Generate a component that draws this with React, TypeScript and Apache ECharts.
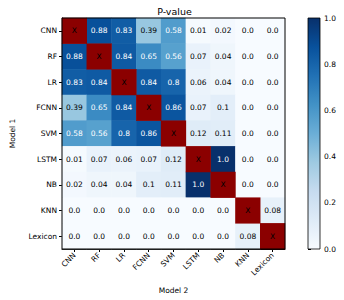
import React, { useEffect, useRef } from "react";
import * as echarts from "echarts";

const models = ["CNN", "RF", "LR", "FCNN", "SVM", "LSTM", "NB", "KNN", "Lexicon"];

// rows = Model 1 (top to bottom), columns = Model 2; null = diagonal
const rowCNN = [null, 0.88, 0.83, 0.39, 0.58, 0.01, 0.02, 0.0, 0.0];
const rowRF = [0.88, null, 0.84, 0.65, 0.56, 0.07, 0.04, 0.0, 0.0];
const rowLR = [0.83, 0.84, null, 0.84, 0.8, 0.06, 0.04, 0.0, 0.0];
const rowFCNN = [0.39, 0.65, 0.84, null, 0.86, 0.07, 0.1, 0.0, 0.0];
const rowSVM = [0.58, 0.56, 0.8, 0.86, null, 0.12, 0.11, 0.0, 0.0];
const rowLSTM = [0.01, 0.07, 0.06, 0.07, 0.12, null, 1.0, 0.0, 0.0];
const rowNB = [0.02, 0.04, 0.04, 0.1, 0.11, 1.0, null, 0.0, 0.0];
const rowKNN = [0.0, 0.0, 0.0, 0.0, 0.0, 0.0, 0.0, null, 0.08];
const rowLexicon = [0.0, 0.0, 0.0, 0.0, 0.0, 0.0, 0.0, 0.08, null];

const rows = [rowCNN, rowRF, rowLR, rowFCNN, rowSVM, rowLSTM, rowNB, rowKNN, rowLexicon];

const blues = [
  "#f7fbff", "#deebf7", "#c6dbef", "#9ecae1", "#6baed6",
  "#4292c6", "#2171b5", "#08519c", "#08306b",
];

const FONT = "DejaVu Sans";

export default function App() {
  const ref = useRef<HTMLDivElement>(null);
  useEffect(() => {
    if (!ref.current) return;
    const chart = echarts.init(ref.current, undefined, { renderer: "svg" });

    const valueData: any[] = [];
    const diagData: any[] = [];
    rows.forEach((row, i) => {
      row.forEach((v, j) => {
        if (v === null) {
          diagData.push([j, i, 1]);
        } else {
          valueData.push({
            value: [j, i, v],
            label: { color: v > 0.5 ? "#ffffff" : "#000000" },
          });
        }
      });
    });

    const gL = 54, gT = 18, gW = 231, gH = 231;
    const cbL = 308, cbW = 12;

    chart.setOption({
      animation: false,
      textStyle: { fontFamily: FONT },
      title: {
        text: "P-value",
        left: gL + gW / 2,
        top: 1,
        textAlign: "center",
        textStyle: { fontSize: 9.5, fontWeight: "normal", color: "#000", fontFamily: FONT },
      },
      grid: [
        { left: gL, top: gT, width: gW, height: gH, show: true, borderColor: "#000", borderWidth: 1, backgroundColor: "transparent", z: 5 },
        { left: cbL, top: gT, width: cbW, height: gH, show: false },
      ],
      xAxis: [
        {
          type: "category",
          data: models,
          gridIndex: 0,
          name: "Model 2",
          nameLocation: "middle",
          nameGap: 37,
          nameTextStyle: { fontSize: 7.5, color: "#000", fontFamily: FONT },
          axisLine: { show: true, lineStyle: { color: "#000", width: 1 } },
          axisTick: { show: true, alignWithLabel: true, length: 3, lineStyle: { color: "#000" } },
          axisLabel: { rotate: 45, fontSize: 7.5, color: "#000", margin: 5, fontFamily: FONT },
          splitLine: { show: false },
          splitArea: { show: false },
        },
        { type: "value", gridIndex: 1, show: false, min: 0, max: 1 },
      ],
      yAxis: [
        {
          type: "category",
          data: models,
          inverse: true,
          gridIndex: 0,
          name: "Model 1",
          nameLocation: "middle",
          nameGap: 46,
          nameRotate: 90,
          nameTextStyle: { fontSize: 7.5, color: "#000", fontFamily: FONT },
          axisLine: { show: true, lineStyle: { color: "#000", width: 1 } },
          axisTick: { show: true, alignWithLabel: true, length: 3, lineStyle: { color: "#000" } },
          axisLabel: { fontSize: 7.5, color: "#000", margin: 5, fontFamily: FONT },
          splitLine: { show: false },
          splitArea: { show: false },
        },
        {
          type: "value",
          gridIndex: 1,
          min: 0,
          max: 1,
          interval: 0.2,
          position: "right",
          axisLine: { show: false },
          axisTick: { show: true, length: 3, lineStyle: { color: "#000" } },
          axisLabel: { fontSize: 7.5, color: "#000", margin: 4, fontFamily: FONT, formatter: (v: number) => v.toFixed(1) },
          splitLine: { show: false },
        },
      ],
      visualMap: [
        {
          show: false,
          type: "continuous",
          min: 0,
          max: 1,
          seriesIndex: 0,
          dimension: 2,
          inRange: { color: blues },
        },
        {
          show: false,
          type: "continuous",
          min: 0,
          max: 1,
          seriesIndex: 1,
          dimension: 2,
          inRange: { color: ["#8b0000", "#8b0000"] },
        },
      ],
      graphic: [
        {
          type: "rect",
          shape: { x: cbL, y: gT, width: cbW, height: gH },
          style: {
            fill: {
              type: "linear",
              x: 0, y: 1, x2: 0, y2: 0,
              colorStops: blues.map((c, k) => ({ offset: k / (blues.length - 1), color: c })),
            },
            stroke: "#000",
            lineWidth: 0.8,
          },
          z: 10,
        },
      ],
      series: [
        {
          type: "heatmap",
          xAxisIndex: 0,
          yAxisIndex: 0,
          data: valueData,
          label: {
            show: true,
            fontSize: 7.5,
            fontFamily: FONT,
            formatter: (p: any) => {
              const v = p.value[2];
              return Number.isInteger(v) ? v.toFixed(1) : String(v);
            },
          },
          emphasis: { disabled: true },
        },
        {
          type: "heatmap",
          xAxisIndex: 0,
          yAxisIndex: 0,
          data: diagData,
          label: { show: true, fontSize: 7.5, color: "#000", fontFamily: FONT, formatter: () => "X" },
          emphasis: { disabled: true },
        },
      ],
    });
    return () => chart.dispose();
  }, []);
  return (
    <div
      ref={ref}
      style={{ position: "absolute", left: 0, top: 0, width: 344, height: 300 }}
    />
  );
}
